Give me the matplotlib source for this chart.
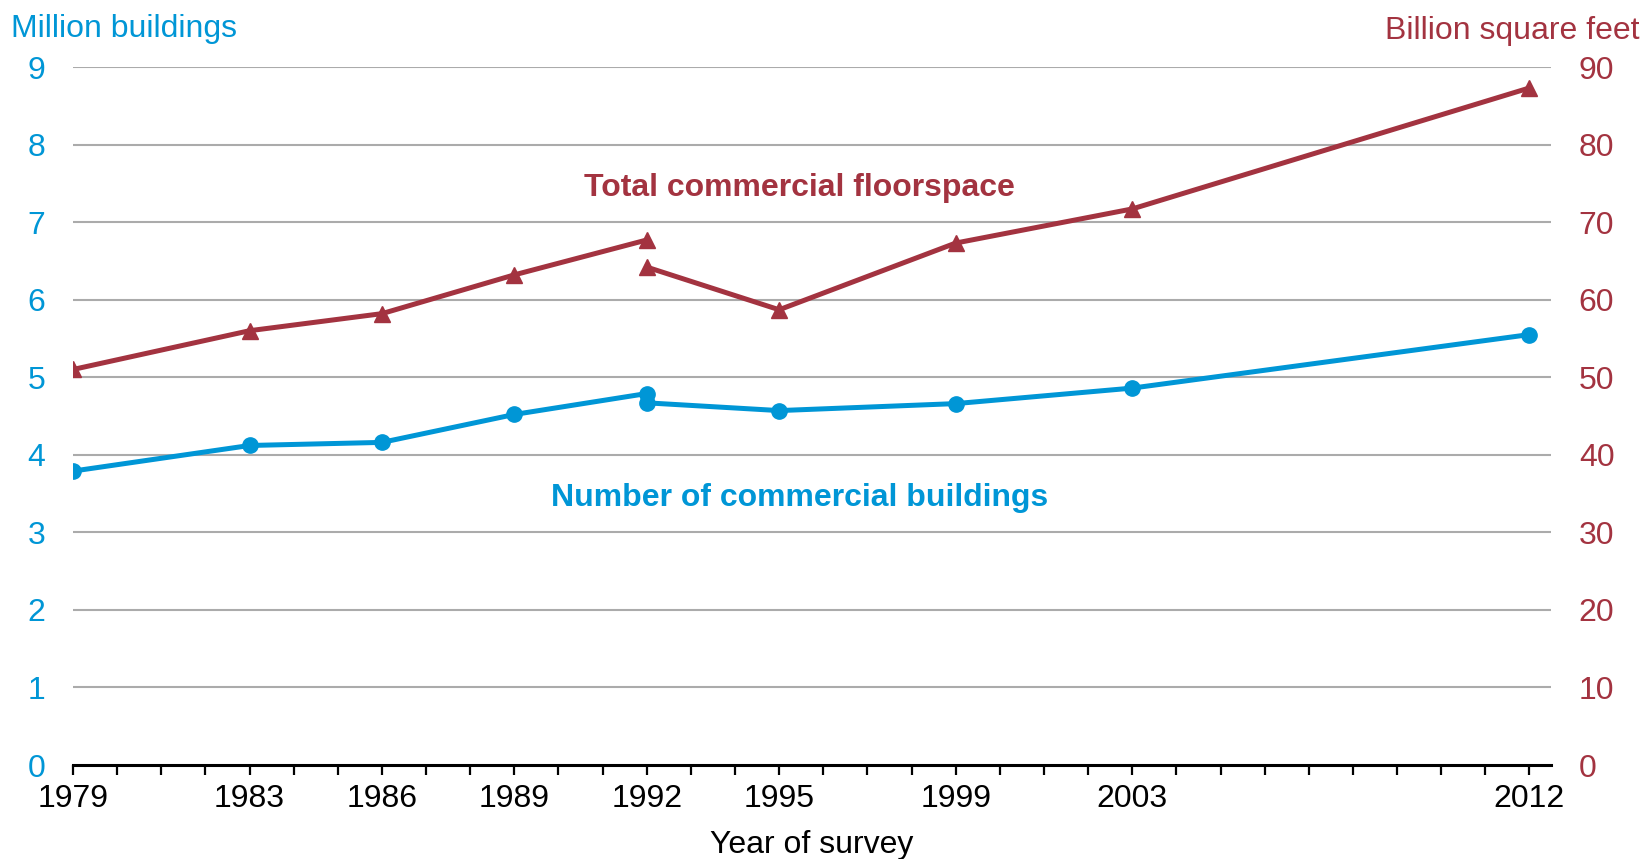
import matplotlib.pyplot as plt

plt.rcParams['font.family'] = ['Liberation Sans', 'DejaVu Sans']

BLUE = '#0096d6'
RED = '#a33340'

# Series are split at 1992 (survey method change)
years_a = [1979, 1983, 1986, 1989, 1992]
years_b = [1992, 1995, 1999, 2003, 2012]
buildings_a = [3.79, 4.12, 4.16, 4.52, 4.79]
buildings_b = [4.67, 4.57, 4.66, 4.86, 5.55]
floorspace_a = [51.0, 56.0, 58.2, 63.2, 67.7]
floorspace_b = [64.2, 58.7, 67.3, 71.7, 87.3]
survey_years = [1979, 1983, 1986, 1989, 1992, 1995, 1999, 2003, 2012]

fig = plt.figure(figsize=(16.41, 8.59), dpi=100)
ax = fig.add_axes([0.0445, 0.1094, 0.9007, 0.8126])
ax2 = ax.twinx()

# grid
for v in range(1, 10):
    ax.axhline(v, color='#ababab', lw=1.5, zorder=0)

ax.plot(years_a, buildings_a, color=BLUE, lw=3.6, marker='o', ms=11, zorder=3)
ax.plot(years_b, buildings_b, color=BLUE, lw=3.6, marker='o', ms=11, zorder=3)
ax2.plot(years_a, floorspace_a, color=RED, lw=3.6, marker='^', ms=11.5, zorder=3)
ax2.plot(years_b, floorspace_b, color=RED, lw=3.6, marker='^', ms=11.5, zorder=3)

ax.set_xlim(1979, 2012.49)
ax.set_ylim(0, 9)
ax2.set_ylim(0, 90)

ax.set_xticks(range(1979, 2013), minor=True)
ax.set_xticks(survey_years)
ax.set_xticklabels([str(y) for y in survey_years])
ax.tick_params(axis='x', which='both', direction='out', length=7, width=1.6,
               color='black', labelsize=23, pad=7)

ax.set_yticks(range(0, 10))
ax.tick_params(axis='y', length=0, labelsize=23, labelcolor=BLUE, pad=20)
ax2.set_yticks(range(0, 100, 10))
ax2.tick_params(axis='y', length=0, labelsize=23, labelcolor=RED, pad=20)

for a in (ax, ax2):
    for s in ('top', 'left', 'right'):
        a.spines[s].set_visible(False)
ax2.spines['bottom'].set_visible(False)
ax.spines['bottom'].set_linewidth(2.2)

ax.set_xlabel('Year of survey', fontsize=23, labelpad=11)

fig.text(0.007, 0.966, 'Million buildings', color=BLUE, fontsize=23, va='center')
fig.text(0.999, 0.964, 'Billion square feet', color=RED, fontsize=23,
         va='center', ha='right')

ax.text(1995.47, 7.44, 'Total commercial floorspace', color=RED, fontsize=23,
        fontweight='bold', ha='center', va='center')
ax.text(1995.47, 3.44, 'Number of commercial buildings', color=BLUE, fontsize=23,
        fontweight='bold', ha='center', va='center')

fig.savefig('out.png', dpi=100)
